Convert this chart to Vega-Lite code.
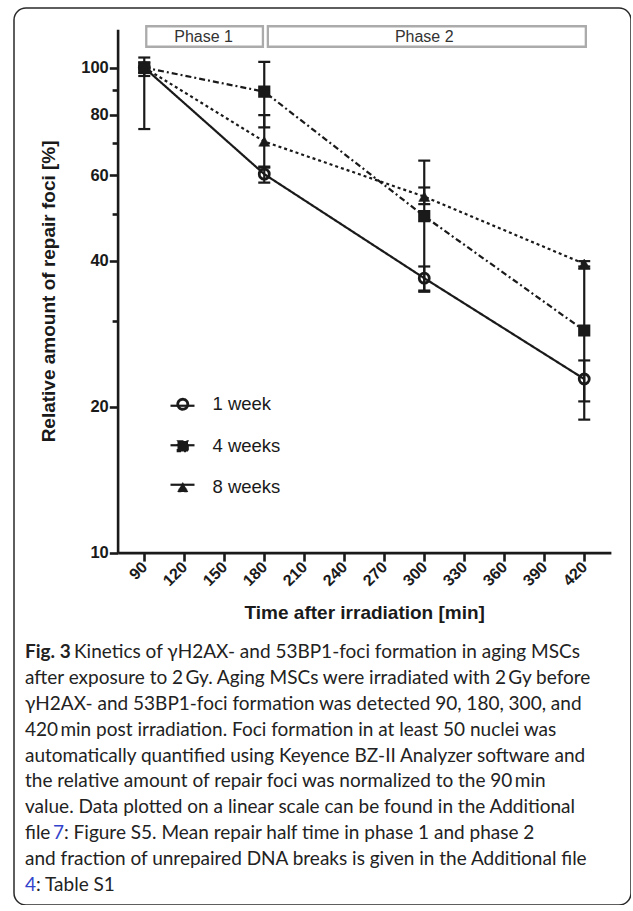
{
  "$schema": "https://vega.github.io/schema/vega-lite/v6.json",
  "width": 617,
  "height": 897,
  "autosize": {"type": "none"},
  "padding": {"left": 14, "top": 8, "right": 0, "bottom": 0},
  "background": "white",
  "config": {
    "view": {"stroke": "#2a2a2a", "strokeWidth": 1.5, "cornerRadius": 12, "fill": "white"},
    "font": "Liberation Sans",
    "axis": {"labelFont": "Liberation Sans", "titleFont": "Liberation Sans", "labelColor": "#1a1a1a", "titleColor": "#1a1a1a", "domainColor": "#1a1a1a", "tickColor": "#1a1a1a", "grid": false}
  },
  "datasets": {
    "points": [
      {"group": "1 week", "time": 90, "mean": 100, "lo": 96.1, "hi": 104.9},
      {"group": "1 week", "time": 180, "mean": 60.3, "lo": 57.9, "hi": 62.5},
      {"group": "1 week", "time": 300, "mean": 36.8, "lo": 34.7, "hi": 38.9},
      {"group": "1 week", "time": 420, "mean": 22.8, "lo": 20.5, "hi": 24.9},
      {"group": "4 weeks", "time": 90, "mean": 100, "lo": 97.5, "hi": 102.5},
      {"group": "4 weeks", "time": 180, "mean": 89.2, "lo": 75.3, "hi": 102.8},
      {"group": "4 weeks", "time": 300, "mean": 49.4, "lo": 34.5, "hi": 64.3},
      {"group": "4 weeks", "time": 420, "mean": 28.7, "lo": 18.8, "hi": 38.5},
      {"group": "8 weeks", "time": 90, "mean": 100, "lo": 74.7, "hi": 100},
      {"group": "8 weeks", "time": 180, "mean": 70.4, "lo": 62.2, "hi": 79.8},
      {"group": "8 weeks", "time": 300, "mean": 54.2, "lo": 52.3, "hi": 56.6},
      {"group": "8 weeks", "time": 420, "mean": 39.4, "lo": 38.9, "hi": 39.9}
    ],
    "phases": [
      {"phase": "Phase 1", "start": 91.5, "end": 179, "mid": 134.5},
      {"phase": "Phase 2", "start": 182.7, "end": 421.2, "mid": 300}
    ],
    "legendkeys": [{"key": "k1"}, {"key": "k2"}, {"key": "k3"}],
    "caption": [
      {"line": 0, "seg": "bold", "text": "Fig. 3"},
      {"line": 0, "seg": "k", "text": "Kinetics of γH2AX- and 53BP1-foci formation in aging MSCs"},
      {"line": 1, "seg": "n", "text": "after exposure to 2\u2009Gy. Aging MSCs were irradiated with 2\u2009Gy before"},
      {"line": 2, "seg": "n", "text": "γH2AX- and 53BP1-foci formation was detected 90, 180, 300, and"},
      {"line": 3, "seg": "n", "text": "420\u2009min post irradiation. Foci formation in at least 50 nuclei was"},
      {"line": 4, "seg": "n", "text": "automatically quantified using Keyence BZ-II Analyzer software and"},
      {"line": 5, "seg": "n", "text": "the relative amount of repair foci was normalized to the 90\u2009min"},
      {"line": 6, "seg": "n", "text": "value. Data plotted on a linear scale can be found in the Additional"},
      {"line": 7, "seg": "n", "text": "file"},
      {"line": 7, "seg": "b7", "text": "7"},
      {"line": 7, "seg": "r7", "text": ": Figure S5. Mean repair half time in phase 1 and phase 2"},
      {"line": 8, "seg": "n", "text": "and fraction of unrepaired DNA breaks is given in the Additional file"},
      {"line": 9, "seg": "b4", "text": "4"},
      {"line": 9, "seg": "r9", "text": ": Table S1"}
    ]
  },
  "resolve": {"scale": {"x": "independent", "y": "independent"}},
  "layer": [
    {
      "layer": [
        {
          "data": {"name": "phases"},
          "mark": {"type": "rect", "fill": "white", "stroke": "#ababab", "strokeWidth": 2.3},
          "encoding": {
            "x": {"field": "start", "type": "quantitative", "title": "Time after irradiation [min]"},
            "x2": {"field": "end"},
            "y": {"datum": 121.7, "type": "quantitative"},
            "y2": {"datum": 110.4}
          }
        },
        {
          "data": {"name": "phases"},
          "mark": {"type": "text", "font": "Liberation Sans", "fontSize": 16, "color": "#333333", "baseline": "middle", "align": "center"},
          "encoding": {
            "x": {"field": "mid", "type": "quantitative", "title": "Time after irradiation [min]"},
            "y": {"datum": 115.4, "type": "quantitative"},
            "text": {"field": "phase"}
          }
        },
        {
          "data": {"name": "legendkeys"},
          "mark": {"type": "point", "opacity": 0},
          "encoding": {
            "color": {
              "field": "key", "type": "nominal",
              "scale": {"domain": ["k1", "k2", "k3"], "range": ["#1a1a1a", "#1a1a1a", "#1a1a1a"]},
              "legend": {
                "title": null, "orient": "none", "legendX": 155, "legendY": 384.25, "padding": 0,
                "symbolType": "stroke", "symbolSize": 576, "symbolStrokeWidth": 2.2, "symbolOpacity": 1,
                "labelExpr": "''", "labelFontSize": 18.5, "rowPadding": 16.5
              }
            }
          }
        },
        {
          "data": {"name": "points"},
          "encoding": {
            "x": {
              "field": "time", "type": "quantitative", "title": "Time after irradiation [min]",
              "scale": {"domain": [70, 440], "range": [103.6, 596.9], "nice": false, "zero": false},
              "axis": {
                "orient": "bottom", "offset": -352.4, "values": [90, 120, 150, 180, 210, 240, 270, 300, 330, 360, 390, 420],
                "labelAngle": -45, "labelAlign": "right", "labelBaseline": "middle", "labelPadding": 3,
                "labelFontSize": 16, "labelFontWeight": "bold", "tickSize": 8.5, "tickWidth": 2.6, "domainWidth": 2.6,
                "titleFontSize": 19, "titleFontWeight": "bold", "titlePadding": 15
              }
            },
            "xOffset": {"field": "group", "type": "nominal", "scale": {"type": "point", "domain": ["4 weeks", "1 week", "8 weeks"], "range": [-7, 7], "padding": 0}}
          },
          "layer": [
            {
              "mark": {"type": "line", "strokeWidth": 2.2, "color": "#1a1a1a"},
              "encoding": {
                "y": {
                  "field": "mean", "type": "quantitative", "title": "Relative amount of repair foci [%]",
                  "scale": {"type": "log", "domain": [10, 120], "range": [544.6, 21.2], "nice": false},
                  "axis": {
                    "orient": "left", "offset": -103.6, "values": [10, 20, 30, 40, 50, 60, 70, 80, 90, 100],
                    "labelExpr": "indexof([30, 50, 70, 90], datum.value) >= 0 ? '' : datum.label",
                    "labelFontSize": 16.5, "labelFontWeight": "bold", "labelPadding": 1,
                    "tickSize": {"condition": {"test": "indexof([30, 50, 70, 90], datum.value) >= 0", "value": 5.5}, "value": 8.3},
                    "tickWidth": 2.6, "domainWidth": 2.6,
                    "titleFontSize": 19, "titleFontWeight": "bold", "titlePadding": 22
                  }
                },
                "strokeDash": {
                  "field": "group", "type": "nominal",
                  "scale": {"domain": ["1 week", "4 weeks", "8 weeks"], "range": [[1, 0], [6, 3, 2, 3], [3, 3]]},
                  "legend": {
                    "title": null, "orient": "none", "legendX": 159.5, "legendY": 387, "padding": 0,
                    "symbolSize": 225, "symbolStrokeWidth": 2.2, "symbolStrokeColor": "#1a1a1a",
                    "labelFont": "Liberation Sans", "labelFontSize": 18.5, "labelColor": "#1a1a1a", "labelOffset": 20.5,
                    "rowPadding": 22
                  }
                }
              }
            },
            {
              "mark": {"type": "rule", "strokeWidth": 2.2, "color": "#1a1a1a"},
              "encoding": {
                "y": {"field": "lo", "type": "quantitative", "title": "Relative amount of repair foci [%]"},
                "y2": {"field": "hi"}
              }
            },
            {
              "mark": {"type": "tick", "orient": "horizontal", "thickness": 2.2, "size": 12, "color": "#1a1a1a", "opacity": 1},
              "encoding": {"y": {"field": "lo", "type": "quantitative", "title": "Relative amount of repair foci [%]"}}
            },
            {
              "mark": {"type": "tick", "orient": "horizontal", "thickness": 2.2, "size": 12, "color": "#1a1a1a", "opacity": 1},
              "encoding": {"y": {"field": "hi", "type": "quantitative", "title": "Relative amount of repair foci [%]"}}
            },
            {
              "mark": {"type": "point", "filled": true, "stroke": "#1a1a1a", "opacity": 1},
              "encoding": {
                "y": {"field": "mean", "type": "quantitative", "title": "Relative amount of repair foci [%]"},
                "shape": {"field": "group", "type": "nominal", "scale": {"domain": ["1 week", "4 weeks", "8 weeks"], "range": ["circle", "square", "triangle-up"]}, "legend": null},
                "fill": {"field": "group", "type": "nominal", "scale": {"domain": ["1 week", "4 weeks", "8 weeks"], "range": ["transparent", "#1a1a1a", "#1a1a1a"]}, "legend": null},
                "size": {"field": "group", "type": "nominal", "scale": {"domain": ["1 week", "4 weeks", "8 weeks"], "range": [100, 121, 125]}, "legend": null},
                "strokeWidth": {"field": "group", "type": "nominal", "scale": {"domain": ["1 week", "4 weeks", "8 weeks"], "range": [2.8, 0.5, 0.5]}, "legend": null}
              }
            }
          ]
        }
      ]
    },
    {
      "data": {"name": "caption"},
      "encoding": {
        "x": {"datum": 0, "type": "quantitative", "scale": {"domain": [0, 1], "range": [11, 611]}, "axis": null},
        "y": {"field": "line", "type": "quantitative", "scale": {"domain": [0, 9], "range": [650.3, 882.7]}, "axis": null},
        "text": {"field": "text"}
      },
      "layer": [
        {"transform": [{"filter": "datum.seg === 'n'"}], "mark": {"type": "text", "align": "left", "baseline": "alphabetic", "font": "Lato", "fontSize": 19, "color": "#222222"}},
        {"transform": [{"filter": "datum.seg === 'bold'"}], "mark": {"type": "text", "align": "left", "baseline": "alphabetic", "font": "Lato", "fontSize": 19, "fontWeight": "bold", "color": "#222222"}},
        {"transform": [{"filter": "datum.seg === 'k'"}], "mark": {"type": "text", "align": "left", "baseline": "alphabetic", "font": "Lato", "fontSize": 19, "color": "#222222", "dx": 49}},
        {"transform": [{"filter": "datum.seg === 'b7'"}], "mark": {"type": "text", "align": "left", "baseline": "alphabetic", "font": "Lato", "fontSize": 19, "color": "#3344cc", "dx": 28}},
        {"transform": [{"filter": "datum.seg === 'r7'"}], "mark": {"type": "text", "align": "left", "baseline": "alphabetic", "font": "Lato", "fontSize": 19, "color": "#222222", "dx": 39}},
        {"transform": [{"filter": "datum.seg === 'b4'"}], "mark": {"type": "text", "align": "left", "baseline": "alphabetic", "font": "Lato", "fontSize": 19, "color": "#3344cc"}},
        {"transform": [{"filter": "datum.seg === 'r9'"}], "mark": {"type": "text", "align": "left", "baseline": "alphabetic", "font": "Lato", "fontSize": 19, "color": "#222222", "dx": 11}}
      ]
    }
  ]
}
